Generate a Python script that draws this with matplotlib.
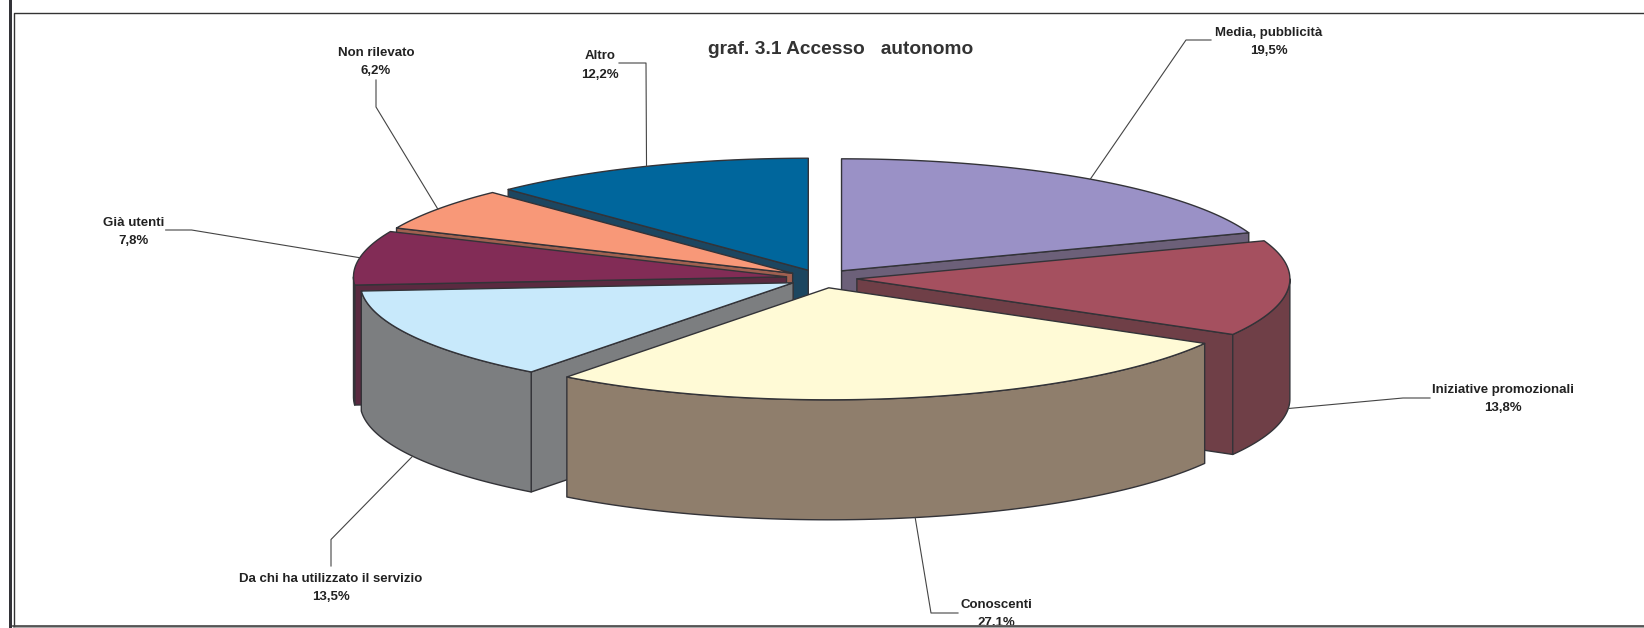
import numpy as np
import matplotlib
matplotlib.use('Agg')
import matplotlib.pyplot as plt
from matplotlib.patches import Polygon, Rectangle

plt.rcParams['font.family'] = ['Liberation Sans', 'DejaVu Sans']

# dati del grafico
categorie = ['Media, pubblicità', 'Iniziative promozionali', 'Conoscenti',
             'Da chi ha utilizzato il servizio', 'Già utenti', 'Non rilevato', 'Altro']
valori = [19.5, 13.8, 27.1, 13.5, 7.8, 6.2, 12.2]
etichette = ['19,5%', '13,8%', '27,1%', '13,5%', '7,8%', '6,2%', '12,2%']
colori_sopra = ['#9A91C6', '#A5505F', '#FFFAD6', '#C8E9FB', '#822C56', '#F89878', '#00669C']
colori_lato = ['#6C6079', '#6F3F47', '#8F7E6C', '#7C7E80', '#5A2A40', '#A06050', '#1C4660']

# geometria della torta (pixel)
CX, CY = 823, 278
A, B = 433, 112
ESPL_X, ESPL_Y = 34, 10
PROF = 120
LINEA = '#333338'

# piccoli scostamenti per fetta rispetto all'esploso regolare
scost_x = [-1, 0, -1, 0, -3, -2.5, -2]
scost_y = [1, 0, 0, 0, 0.5, 1, 1.5]

# posizione del testo e della spezzata per ogni fetta: centro testo, gomito, fine
testi = [(1269, 33), (1503, 389.5), (996, 605), (330.5, 579), (133.5, 222.5), (376, 52.5), (600, 56)]
gomiti = [(1186, 40), (1403, 398), (931, 613), (331, 539.5), (191.6, 230), (376, 107), (646, 63)]
fini = [(1211, 40), (1430, 398), (958, 613), (331, 566), (165.7, 230), (376, 80), (619, 63)]
davanti = [False, True, True, True, False, False, False]

# ordine di disegno, dal fondo verso il davanti
ordine = [6, 5, 4, 0, 3, 1, 2]

fig = plt.figure(figsize=(16.44, 6.28), dpi=100)
ax = fig.add_axes([0, 0, 1, 1])
ax.set_xlim(0, 1644)
ax.set_ylim(628, 0)
ax.axis('off')

# cornice
ax.add_patch(Rectangle((9, -2), 3, 632, fc='#333338', ec='none'))
ax.plot([13.5, 13.5, 1644], [626, 12.5, 12.5], color='#333333', lw=1.0)
ax.plot([13, 1644], [625.5, 625.5], color='#444444', lw=1.2)
ax.add_patch(Rectangle((13, 626.2), 1631, 3, fc='#AAAAAA', ec='none'))

bordi = np.cumsum([0] + valori) / sum(valori) * 2 * np.pi


def punto(centro, ang, dz=0):
    return centro[0] + A * np.sin(ang), centro[1] - B * np.cos(ang) + dz


def faccia(pts, colore, z):
    ax.add_patch(Polygon(pts, closed=True, fc=colore, ec=LINEA, lw=1.0, joinstyle='round', zorder=z))


for z, i in enumerate(ordine):
    t1, t2 = bordi[i], bordi[i + 1]
    med = (t1 + t2) / 2
    centro = (CX + ESPL_X * np.sin(med) + scost_x[i], CY - ESPL_Y * np.cos(med) + scost_y[i])
    z = z + 2

    # taglio iniziale, visibile solo sul lato sinistro
    if np.sin(t1) < -1e-6:
        p = punto(centro, t1)
        faccia([centro, p, (p[0], p[1] + PROF), (centro[0], centro[1] + PROF)], colori_lato[i], z)
    # taglio finale, visibile solo sul lato destro
    if np.sin(t2) > 1e-6:
        p = punto(centro, t2)
        faccia([centro, p, (p[0], p[1] + PROF), (centro[0], centro[1] + PROF)], colori_lato[i], z)
    # parete esterna, solo la parte davanti
    w1, w2 = max(t1, np.pi / 2), min(t2, 3 * np.pi / 2)
    if w2 > w1:
        angs = np.linspace(w1, w2, 80)
        alto = [punto(centro, a) for a in angs]
        basso = [punto(centro, a, PROF) for a in angs[::-1]]
        faccia(alto + basso, colori_lato[i], z)
    # faccia superiore
    angs = np.linspace(t1, t2, 120)
    faccia([centro] + [punto(centro, a) for a in angs], colori_sopra[i], z)

    # spezzata e testo
    att = punto(centro, med, PROF if davanti[i] else 0)
    ax.plot([att[0], gomiti[i][0], fini[i][0]], [att[1], gomiti[i][1], fini[i][1]],
            color='#444444', lw=0.8, zorder=20)

zona = Rectangle((0, 0), 1644, 625, transform=ax.transData)
for i in range(len(categorie)):
    ax.text(testi[i][0], testi[i][1], categorie[i], ha='center', va='center', fontsize=9.5,
            fontweight='bold', color='#222222', zorder=21)
    t = ax.text(testi[i][0], testi[i][1] + 18.5, etichette[i], ha='center', va='center', fontsize=9.5,
                fontweight='bold', color='#222222', zorder=21)
    t.set_clip_path(zona)
    t.set_clip_on(True)

ax.text(840.5, 49.5, 'graf. 3.1 Accesso   autonomo', ha='center', va='center', fontsize=13.8,
        fontweight='bold', color='#333333')

fig.savefig('out.png', dpi=100)
